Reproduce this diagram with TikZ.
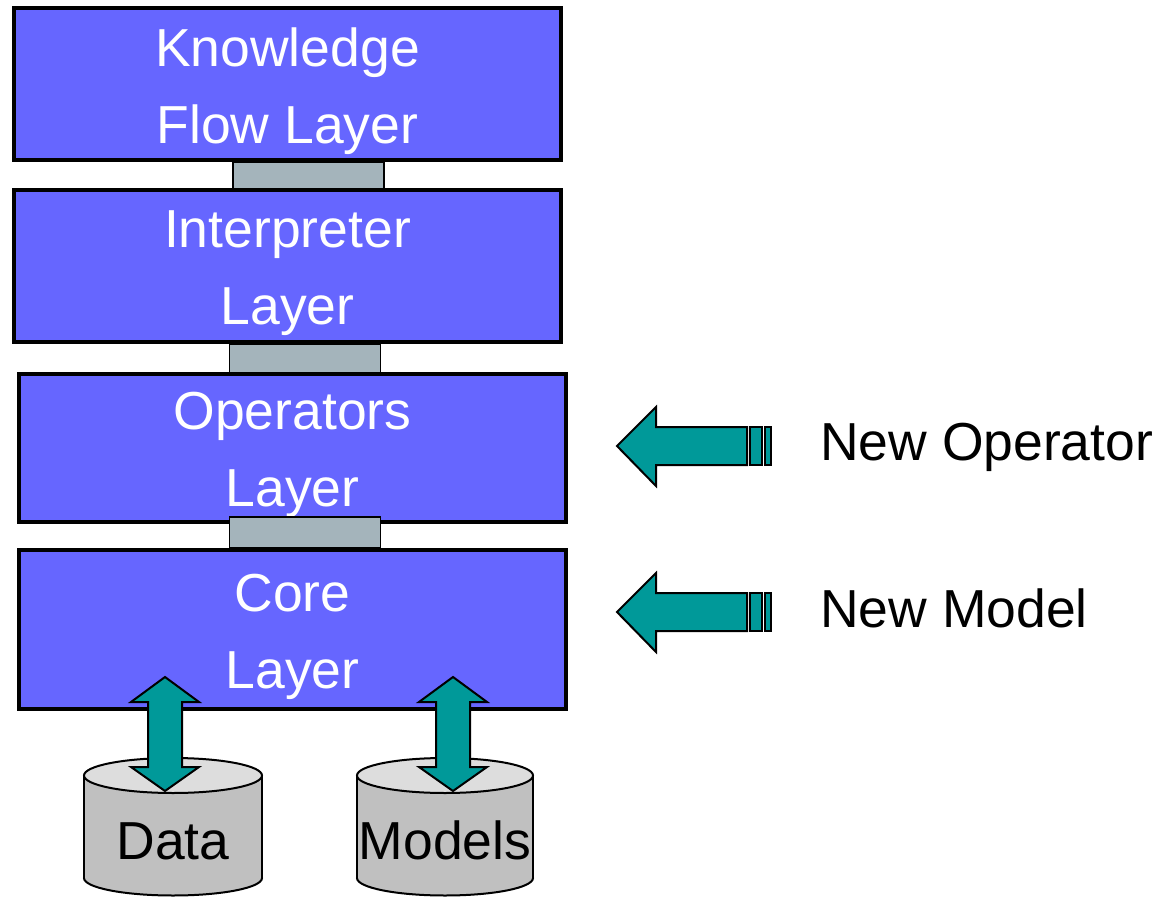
\documentclass[tikz,border=0pt]{standalone}
\usepackage{fontspec}
\setmainfont{Liberation Sans}
\usepackage{tikz}
\usetikzlibrary{positioning}
\definecolor{layerblue}{HTML}{6666FF}
\definecolor{linkgray}{HTML}{A4B4BB}
\definecolor{arrowteal}{HTML}{009999}
\definecolor{drumside}{HTML}{C0C0C0}
\definecolor{drumtop}{HTML}{DDDDDD}
\newcommand{\layerfont}{\fontsize{53.5}{77}\selectfont}
\tikzset{
    layer/.style={draw, line width=4pt, fill=layerblue, minimum width=547pt, inner sep=0pt},
    layertext/.style={text=white, align=center, font=\layerfont, inner sep=0pt},
    link/.style={draw, line width=1.5pt, fill=linkgray, minimum width=151pt, inner sep=0pt},
    fatarrow/.style={draw, line width=2pt, fill=arrowteal, line join=miter},
    drum/.style={draw, line width=2pt},
    sidetext/.style={font=\layerfont, inner sep=0pt},
}

\begin{document}
\begin{tikzpicture}[x=1pt, y=-1pt]
            \useasboundingbox (0,0) rectangle (1168,899);

            % the four layers
            \node [layer, minimum height=151.5pt] (KF) at (287.5, 84) {};
            \node [layer, minimum height=151.5pt] (IL) at (287.5, 266) {};
            \node [layer, minimum height=147.5pt] (OL) at (292.5, 448) {};
            \node [layer, minimum height=159pt] (CL) at (292.5, 629.5) {};

            \node [layertext] (KFtext) at ([yshift=-7pt]KF.center) {Knowledge\\Flow Layer};
            \node [layertext] (ILtext) at ([yshift=-7pt]IL.center) {Interpreter\\Layer};
            \node [layertext] (OLtext) at ([yshift=-7pt]OL.center) {Operators\\Layer};
            \node [layertext] (CLtext) at ([yshift=-7pt]CL.center) {Core\\Layer};

            % links between layers
            \node [link, minimum height=27pt] (KFIL) at (308.5, 175.5) {};
            \node [link, minimum height=29pt] (ILOL) at (305, 358.5) {};
            \node [link, minimum height=31pt] (OLCL) at (305, 532.5) {};

            % data stores
            \draw [drum, fill=drumside] (173, 878) ellipse [x radius=89pt, y radius=17.5pt];
            \fill [drumside] (84, 775.5) rectangle (262, 878);
            \draw [drum] (84, 775.5) -- (84, 878) (262, 775.5) -- (262, 878);
            \draw [drum, fill=drumtop] (173, 775.5) ellipse [x radius=89pt, y radius=17.5pt];
            \node [sidetext, anchor=base] (data) at (173, 859) {Data};

            \draw [drum, fill=drumside] (445, 878) ellipse [x radius=88pt, y radius=17.5pt];
            \fill [drumside] (357, 775.5) rectangle (533, 878);
            \draw [drum] (357, 775.5) -- (357, 878) (533, 775.5) -- (533, 878);
            \draw [drum, fill=drumtop] (445, 775.5) ellipse [x radius=88pt, y radius=17.5pt];
            \node [sidetext, anchor=base] (models) at (445, 859) {Models};

            % core layer <-> stores
            \draw [fatarrow] (165, 677) -- (199, 702) -- (182, 702) -- (182, 767) -- (199, 767)
                -- (165, 791) -- (131, 767) -- (148, 767) -- (148, 702) -- (131, 702) -- cycle;
            \draw [fatarrow] (453, 677) -- (487, 702) -- (470, 702) -- (470, 767) -- (487, 767)
                -- (453, 791) -- (419, 767) -- (436, 767) -- (436, 702) -- (419, 702) -- cycle;

            % plug-in arrows
            \draw [fatarrow] (617, 446) -- (656, 407) -- (656, 427) -- (747, 427) -- (747, 465)
                -- (656, 465) -- (656, 486) -- cycle;
            \draw [fatarrow] (750, 427) rectangle (762, 465);
            \draw [fatarrow] (765, 427) rectangle (771, 465);
            \node [sidetext, anchor=base west] (newop) at (820, 460) {New Operator};

            \draw [fatarrow] (617, 612) -- (656, 573) -- (656, 593) -- (747, 593) -- (747, 631)
                -- (656, 631) -- (656, 652) -- cycle;
            \draw [fatarrow] (750, 593) rectangle (762, 631);
            \draw [fatarrow] (765, 593) rectangle (771, 631);
            \node [sidetext, anchor=base west] (newmodel) at (820, 627) {New Model};
        \end{tikzpicture}
\end{document}
